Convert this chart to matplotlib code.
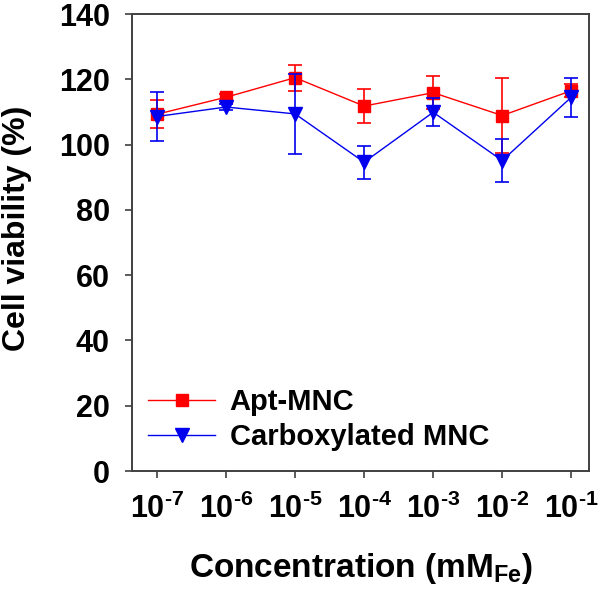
# Cell viability vs iron concentration
import matplotlib
matplotlib.use('Agg')
import matplotlib.pyplot as plt

plt.rcParams['font.family'] = ['Liberation Sans', 'DejaVu Sans']
plt.rcParams['font.weight'] = 'bold'
plt.rcParams['mathtext.fontset'] = 'custom'
plt.rcParams['mathtext.rm'] = 'Liberation Sans:bold'
plt.rcParams['mathtext.it'] = 'Liberation Sans:bold'
plt.rcParams['mathtext.bf'] = 'Liberation Sans:bold'

# data
conc_labels = ['$10^{\u2010 7}$', '$10^{\u2010 6}$', '$10^{\u2010 5}$', '$10^{\u2010 4}$',
               '$10^{\u2010 3}$', '$10^{\u2010 2}$', '$10^{\u2010 1}$']
apt_mnc = [109.3, 114.5, 120.5, 111.8, 115.9, 108.9, 116.5]
apt_err = [4.3, 1.0, 4.0, 5.3, 5.0, 11.6, 2.0]
carb_mnc = [108.6, 111.5, 109.4, 94.6, 109.9, 95.1, 114.5]
carb_err = [7.5, 1.0, 12.2, 5.0, 4.3, 6.7, 6.0]

x = list(range(len(conc_labels)))

fig = plt.figure(figsize=(6, 5.96), dpi=100)
ax = fig.add_axes([0.22, 0.2097, 0.762, 0.7668])

# error bars first, then the lines with markers on top
ax.errorbar(x, apt_mnc, yerr=apt_err, fmt='none', ecolor='#ff0000',
            elinewidth=1.2, capsize=5, capthick=1.2)
ax.plot(x, apt_mnc, color='#ff0000', marker='s', markersize=9, linewidth=1,
        label='Apt-MNC')
ax.errorbar(x, carb_mnc, yerr=carb_err, fmt='none', ecolor='#0000ee',
            elinewidth=1.2, capsize=5, capthick=1.2)
ax.plot(x, carb_mnc, color='#0000ee', marker='v', markersize=10, linewidth=1,
        label='Carboxylated MNC')

ax.set_xlim(-0.362, 6.26)
ax.set_ylim(0, 140)
ax.set_xticks(x)
ax.set_xticklabels(conc_labels)
ax.set_yticks(range(0, 141, 20))

for side in ['left', 'bottom', 'top', 'right']:
    ax.spines[side].set_color('#404040')
    ax.spines[side].set_linewidth(1.4)

ax.tick_params(axis='both', direction='out', length=5, width=1.2, color='#404040',
               labelsize=22, top=False, right=False)
ax.tick_params(axis='x', pad=11)
ax.tick_params(axis='y', pad=11)

ax.set_xlabel('Concentration (mM$_{Fe}$)', fontsize=24, fontweight='bold')
ax.xaxis.set_label_coords(0.5, -0.176)
ax.set_ylabel('Cell viability (%)', fontsize=23, fontweight='bold')
ax.yaxis.set_label_coords(-0.219, 0.53)

ax.legend(loc='center left', bbox_to_anchor=(0.035, 0.112), frameon=False, fontsize=21,
          handlelength=2.3, handletextpad=0.5, labelspacing=0.25,
          borderpad=0, borderaxespad=0)

plt.savefig('out.png', dpi=100)
